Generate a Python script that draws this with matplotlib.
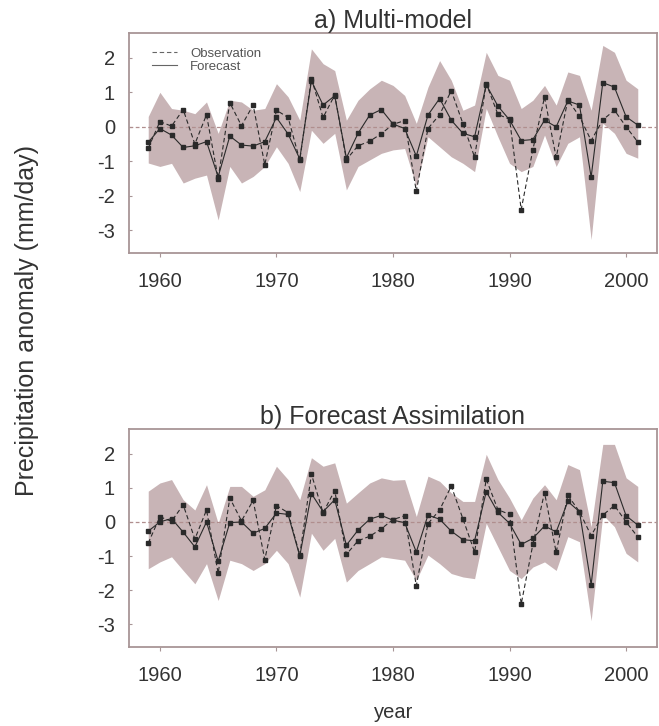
import matplotlib
matplotlib.use('Agg')
import numpy as np
import matplotlib.pyplot as plt

plt.rcParams['font.family'] = ['Liberation Sans', 'DejaVu Sans']
plt.rcParams['axes.unicode_minus'] = False

# years 1959-2001
years = np.arange(1959, 2002)

# observed anomaly (same in both panels)
observation = [-0.62, 0.15, 0.02, 0.50, -0.50, 0.35, -1.50, 0.70, 0.03, 0.63,
               -1.10, 0.48, 0.27, -0.97, 1.40, 0.27, 0.92, -0.95, -0.55, -0.42,
               -0.20, 0.07, 0.18, -1.87, -0.05, 0.35, 1.05, 0.09, -0.88, 1.25,
               0.36, 0.22, -2.40, -0.66, 0.86, -0.89, 0.78, 0.30, -0.40, 0.20,
               0.48, 0.00, -0.44]

# a) multi-model forecast and its spread
forecast_mm = [-0.45, -0.05, -0.24, -0.60, -0.55, -0.43, -1.45, -0.27, -0.53, -0.56,
               -0.43, 0.27, -0.21, -0.93, 1.33, 0.63, 0.90, -0.90, -0.19, 0.34,
               0.50, 0.08, -0.05, -0.85, 0.34, 0.82, 0.19, -0.19, -0.29, 1.22,
               0.60, 0.20, -0.40, -0.37, 0.19, 0.00, 0.75, 0.63, -1.46, 1.28,
               1.15, 0.29, 0.05]
upper_mm = [0.30, 1.00, 0.53, 0.48, 0.38, 0.72, -0.19, 0.77, 0.72, 0.48,
            0.53, 1.25, 0.87, 0.19, 2.26, 1.83, 1.63, 0.19, 0.77, 1.10,
            1.35, 1.20, 0.91, 0.10, 1.15, 1.92, 1.35, 0.48, 0.63, 2.16,
            1.49, 1.35, 0.53, 0.77, 1.20, 0.63, 1.59, 1.49, 0.48, 2.36,
            2.16, 1.35, 1.10]
lower_mm = [-1.05, -1.15, -1.06, -1.63, -1.49, -1.40, -2.70, -1.15, -1.63, -1.44,
            -1.15, -0.58, -1.06, -1.88, -0.10, -0.48, -0.19, -1.83, -1.15, -0.96,
            -0.77, -0.67, -0.63, -1.73, -0.29, -0.58, -0.87, -1.06, -1.30, 0.53,
            -0.29, -1.06, -1.30, -1.15, -0.24, -1.15, -0.48, -0.29, -3.27, 0.10,
            -0.19, -0.77, -0.91]

# b) forecast assimilation and its spread
forecast_fa = [-0.27, 0.00, 0.10, -0.30, -0.73, 0.00, -1.15, -0.02, 0.00, -0.33,
               -0.19, 0.26, 0.22, -1.00, 0.83, 0.30, 0.65, -0.68, -0.24, 0.08,
               0.19, 0.05, -0.02, -0.88, 0.20, 0.08, -0.27, -0.52, -0.55, 0.89,
               0.28, -0.04, -0.66, -0.48, -0.12, -0.29, 0.60, 0.30, -1.84, 1.19,
               1.15, 0.18, -0.09]
upper_fa = [0.90, 1.14, 1.24, 0.65, 0.35, 1.09, -0.04, 1.04, 1.04, 0.75,
            0.94, 1.63, 1.24, 0.65, 1.88, 1.63, 1.73, 0.55, 0.85, 1.14,
            1.29, 1.22, 1.24, 0.16, 1.34, 1.19, 0.85, 0.60, 0.60, 1.98,
            1.24, 0.70, 0.06, 0.70, 1.09, 0.65, 1.68, 1.53, -0.14, 2.27,
            2.27, 1.29, 1.04]
lower_fa = [-1.37, -1.17, -1.02, -1.42, -1.81, -1.22, -2.30, -1.12, -1.22, -1.42,
            -1.22, -0.83, -1.22, -2.20, -0.33, -0.83, -0.48, -1.76, -1.42, -1.22,
            -1.02, -1.07, -1.12, -1.71, -0.97, -1.22, -1.51, -1.61, -1.66, -0.04,
            -0.73, -1.42, -1.66, -1.32, -1.17, -1.42, -0.43, -0.58, -2.89, 0.21,
            -0.14, -0.92, -1.17]

panels = [
    ('a) Multi-model', forecast_mm, upper_mm, lower_mm),
    ('b) Forecast Assimilation', forecast_fa, upper_fa, lower_fa),
]

band_col = '#c8b4b6'
spine_col = '#a89596'
text_col = '#333333'
line_col = '#2a2a2a'

fig = plt.figure(figsize=(6.59, 7.26), dpi=100)
rects = [[129 / 659, 1 - 253 / 726, 528 / 659, 220 / 726],
         [129 / 659, 1 - 647 / 726, 528 / 659, 218 / 726]]

for rect, (title, fc, up, lo) in zip(rects, panels):
    ax = fig.add_axes(rect)
    ax.fill_between(years, lo, up, color=band_col, lw=0, zorder=1)
    ax.axhline(0, color='#b08e8e', lw=0.9, ls=(0, (3, 2)), zorder=2)
    ax.plot(years, observation, color=line_col, lw=0.8, ls=(0, (4, 2.5)),
            marker='s', ms=2.8, label='Observation', zorder=3)
    ax.plot(years, fc, color=line_col, lw=0.8, ls='-',
            marker='s', ms=2.8, label='Forecast', zorder=4)

    ax.set_xlim(1957.35, 2002.65)
    ax.set_ylim(-3.66, 2.72)
    ax.set_xticks([1960, 1970, 1980, 1990, 2000])
    ax.set_yticks([-3, -2, -1, 0, 1, 2])
    ax.tick_params(axis='x', direction='out', length=3, width=0.8,
                   color=spine_col, labelsize=14.5, labelcolor=text_col, pad=11)
    ax.tick_params(axis='y', direction='in', length=2, width=0.8,
                   color=spine_col, labelsize=14.5, labelcolor=text_col, pad=10)
    for s in ax.spines.values():
        s.set_color(spine_col)
        s.set_linewidth(1.3)
    ax.set_title(title, fontsize=18, color=text_col, pad=3)

    if title.startswith('a)'):
        leg = ax.legend(loc='upper left', bbox_to_anchor=(0.043, 0.935),
                        frameon=False, fontsize=9.5, handlelength=1.9,
                        handletextpad=1.0, labelspacing=0.1,
                        borderaxespad=0, borderpad=0)
        for h in leg.get_lines():
            h.set_marker('')
            h.set_color('#666666')
        for t in leg.get_texts():
            t.set_color('#555555')

fig.text(27 / 659, 1 - 320 / 726, 'Precipitation anomaly (mm/day)', rotation=90,
         ha='center', va='center', fontsize=18, color=text_col)
fig.text(394 / 659, 1 - 712 / 726, 'year', ha='center', va='center',
         fontsize=14.5, color=text_col)

fig.savefig('out.png', dpi=100)
